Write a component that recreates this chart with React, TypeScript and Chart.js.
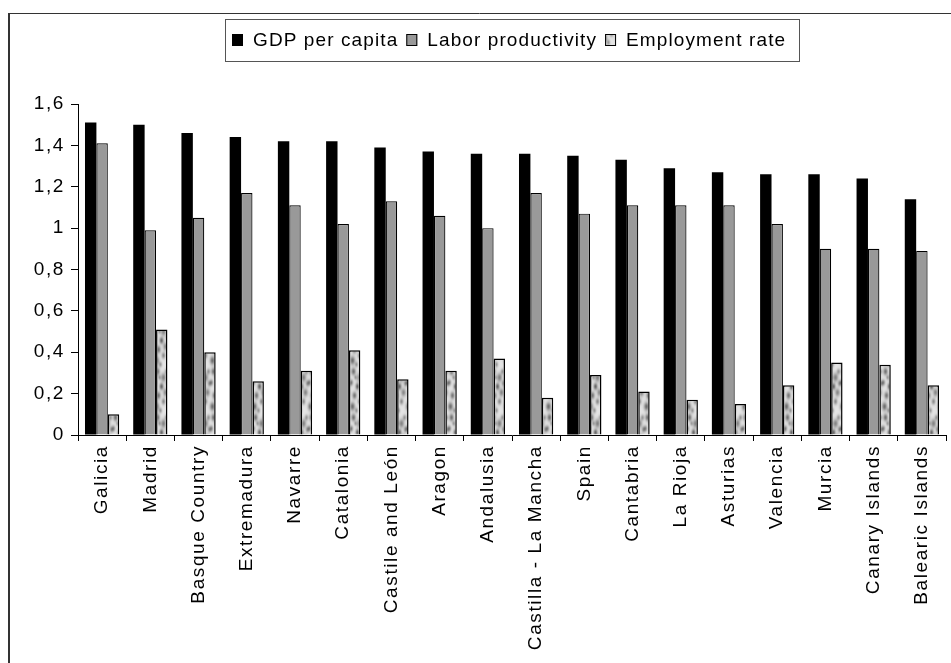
import React, { useEffect, useRef } from 'react';
import { Chart, registerables } from 'chart.js';

Chart.register(...registerables);

const categories = [
  'Galicia', 'Madrid', 'Basque Country', 'Extremadura', 'Navarre', 'Catalonia',
  'Castile and León', 'Aragon', 'Andalusia', 'Castilla - La Mancha', 'Spain',
  'Cantabria', 'La Rioja', 'Asturias', 'Valencia', 'Murcia', 'Canary Islands',
  'Balearic Islands',
];

const gdpPerCapita = [1.51, 1.50, 1.46, 1.44, 1.42, 1.42, 1.39, 1.37, 1.36, 1.36, 1.35, 1.33, 1.29, 1.27, 1.26, 1.26, 1.24, 1.14];
const laborProductivity = [1.41, 0.99, 1.05, 1.17, 1.11, 1.02, 1.13, 1.06, 1.00, 1.17, 1.07, 1.11, 1.11, 1.11, 1.02, 0.90, 0.90, 0.89];
const employmentRate = [0.10, 0.51, 0.40, 0.26, 0.31, 0.41, 0.27, 0.31, 0.37, 0.18, 0.29, 0.21, 0.17, 0.15, 0.24, 0.35, 0.34, 0.24];

const seriesNames = ['GDP per capita', 'Labor productivity', 'Employment rate'];
const yTickLabels = ['0', '0,2', '0,4', '0,6', '0,8', '1', '1,2', '1,4', '1,6'];

const FONT = '"Liberation Sans", Arial, sans-serif';

// texture blobs for the "Employment rate" fill: [x, y, radius, darkness]
const textureBlobs = [
  [3, 3, 2.2, 110], [9, 9, 2.6, 95], [1, 14, 1.8, 80], [7, 18, 2.0, 120],
  [11, 24, 2.4, 90], [4, 27, 2.2, 105], [9, 33, 1.9, 85], [2, 38, 2.5, 115],
  [6, 42, 1.6, 70], [12, 3, 1.7, 70], [5, 9, 1.4, 60], [13, 15, 1.8, 75],
];

function makeTexture(): CanvasPattern | string {
  const c = document.createElement('canvas');
  c.width = 14;
  c.height = 46;
  const g = c.getContext('2d');
  if (!g) return '#cccccc';
  const img = g.createImageData(c.width, c.height);
  for (let y = 0; y < c.height; y++) {
    for (let x = 0; x < c.width; x++) {
      let dark = 0;
      for (const [bx, by, r, d] of textureBlobs) {
        for (let ox = -1; ox <= 1; ox++) {
          for (let oy = -1; oy <= 1; oy++) {
            const dx = x - (bx + ox * c.width);
            const dy = (y - (by + oy * c.height)) * 0.6;
            dark += d * Math.exp(-(dx * dx + dy * dy) / (r * r));
          }
        }
      }
      const shade = Math.max(80, Math.min(235, 228 - dark));
      const i = (y * c.width + x) * 4;
      img.data[i] = shade;
      img.data[i + 1] = shade;
      img.data[i + 2] = shade;
      img.data[i + 3] = 255;
    }
  }
  g.putImageData(img, 0, 0);
  const pattern = g.createPattern(c, 'repeat');
  return pattern || '#cccccc';
}

const framePlugin = {
  id: 'frame',
  beforeDraw(chart: any) {
    const ctx = chart.ctx;
    ctx.save();
    ctx.strokeStyle = '#333';
    ctx.lineWidth = 2;
    ctx.beginPath();
    ctx.moveTo(9, 13);
    ctx.lineTo(9, 663);
    ctx.stroke();
    ctx.lineWidth = 1;
    ctx.beginPath();
    ctx.moveTo(8, 13.5);
    ctx.lineTo(951, 13.5);
    ctx.stroke();
    ctx.restore();
    (ctx as any).letterSpacing = '1.6px';
  },
};

const legendPlugin = {
  id: 'boxedLegend',
  afterDraw(chart: any) {
    const ctx = chart.ctx;
    ctx.save();
    (ctx as any).letterSpacing = '1.1px';
    ctx.font = `19px ${FONT}`;
    ctx.textBaseline = 'middle';
    ctx.textAlign = 'left';
    const top = 19;
    const bottom = 61;
    const cy = 40;
    const left = 225;
    let x = 232;
    const sw = 11;
    chart.data.datasets.forEach((ds: any) => {
      ctx.fillStyle = ds.backgroundColor;
      ctx.fillRect(x, cy - 6, sw, 12);
      ctx.strokeStyle = '#000';
      ctx.lineWidth = 1;
      ctx.strokeRect(x + 0.5, cy - 5.5, sw - 1, 11);
      x += sw + 10;
      ctx.fillStyle = '#000';
      ctx.fillText(ds.label, x, cy + 1);
      x += ctx.measureText(ds.label).width + 8;
    });
    const right = Math.max(x - 8 + 6, 799);
    ctx.strokeStyle = '#555';
    ctx.lineWidth = 1;
    ctx.strokeRect(left + 0.5, top + 0.5, right - left, bottom - top);
    ctx.restore();
  },
};

export default function App() {
  const ref = useRef<HTMLCanvasElement | null>(null);

  useEffect(() => {
    const canvas = ref.current;
    if (!canvas) return;
    const texture = makeTexture();
    const chart = new Chart(canvas, {
      type: 'bar',
      data: {
        labels: categories,
        datasets: [
          {
            label: seriesNames[0],
            data: gdpPerCapita,
            backgroundColor: '#000000',
            borderColor: '#000000',
            borderWidth: 0,
          },
          {
            label: seriesNames[1],
            data: laborProductivity,
            backgroundColor: '#999999',
            borderColor: '#000000',
            borderWidth: 1.2,
          },
          {
            label: seriesNames[2],
            data: employmentRate,
            backgroundColor: texture as any,
            borderColor: '#000000',
            borderWidth: 1.5,
          },
        ],
      },
      options: {
        responsive: false,
        animation: false,
        devicePixelRatio: 1,
        events: [],
        layout: { padding: { left: 10, right: 5, top: 104, bottom: 0 } },
        datasets: {
          bar: { categoryPercentage: 0.71, barPercentage: 1.0 },
        },
        plugins: {
          legend: { display: false },
          tooltip: { enabled: false },
          title: { display: false },
        },
        scales: {
          x: {
            type: 'category',
            offset: true,
            afterFit: (scale: any) => {
              scale.height = 228;
              scale.paddingLeft = 0;
              scale.paddingRight = 0;
            },
            grid: {
              display: true,
              offset: true,
              drawOnChartArea: false,
              drawTicks: true,
              tickLength: 6,
              color: '#000',
            },
            border: { display: true, color: '#000', width: 1 },
            ticks: {
              autoSkip: false,
              maxRotation: 90,
              minRotation: 90,
              padding: 4,
              color: '#000',
              font: { family: FONT, size: 19 },
            },
          },
          y: {
            type: 'linear',
            min: 0,
            max: 1.6,
            afterFit: (scale: any) => {
              scale.width = 68;
              scale.paddingTop = 0;
              scale.paddingBottom = 0;
            },
            grid: {
              display: true,
              drawOnChartArea: false,
              drawTicks: true,
              tickLength: 7,
              color: '#000',
            },
            border: { display: true, color: '#000', width: 1 },
            ticks: {
              stepSize: 0.2,
              padding: 6,
              color: '#000',
              font: { family: FONT, size: 19 },
              callback: (_v: any, i: number) => yTickLabels[i],
            },
          },
        },
      },
      plugins: [framePlugin, legendPlugin],
    });
    return () => chart.destroy();
  }, []);

  return (
    <div style={{ position: 'absolute', left: 0, top: 0, width: 951, height: 663, background: '#fff' }}>
      <canvas ref={ref} width={951} height={663} style={{ display: 'block' }} />
    </div>
  );
}
